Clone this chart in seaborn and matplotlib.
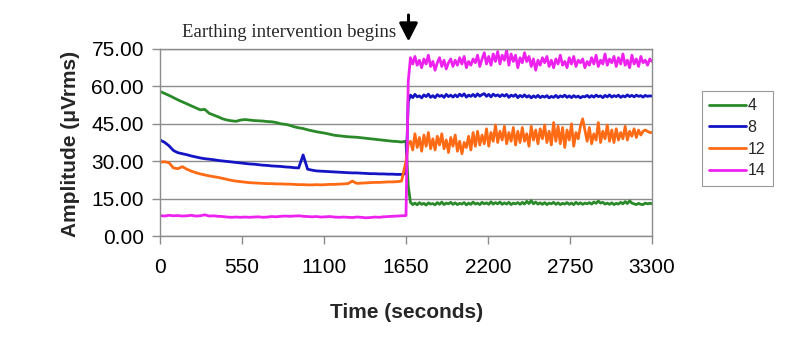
import matplotlib
matplotlib.use("Agg")
import matplotlib.pyplot as plt
import numpy as np
import pandas as pd
import seaborn as sns

# ---------------- data ----------------
time_pre = list(range(0, 1651, 30))        # 56 samples
time_post = list(range(1665, 3301, 15))    # 110 samples (first one is the transition)
time_s = time_pre + time_post

ch4_pre = [58.0, 57.2, 56.4, 55.5, 54.6, 53.8, 53.0, 52.2, 51.4, 50.6,
           50.8, 49.2, 48.5, 47.8, 47.0, 46.5, 46.2, 46.0, 46.5, 46.7,
           46.5, 46.3, 46.2, 46.1, 45.9, 45.8, 45.5, 45.0, 44.8, 44.4,
           43.8, 43.4, 43.1, 42.6, 42.2, 41.8, 41.5, 41.2, 40.8, 40.4,
           40.2, 40.0, 39.8, 39.7, 39.6, 39.4, 39.2, 39.0, 38.8, 38.6,
           38.4, 38.2, 38.0, 37.9, 37.7, 38.0]
ch4_post = [20.0,
            13.5, 12.6, 13.2, 12.5, 13.4, 12.7, 13.1, 12.4, 13.3, 12.8,
            13.0, 12.5, 13.4, 12.7, 13.6, 12.6, 13.2, 12.9, 13.5, 12.7,
            13.3, 12.6, 13.1, 12.8, 13.4, 12.5, 13.2, 12.7, 13.6, 12.8,
            13.2, 12.6, 13.5, 12.9, 13.3, 12.7, 13.7, 12.8, 13.4, 12.9,
            13.6, 12.7, 13.3, 12.8, 13.5, 12.6, 13.2, 12.9, 13.4, 12.7,
            13.5, 12.8, 13.9, 13.0, 14.2, 12.9, 13.6, 12.8, 13.3, 12.7,
            13.4, 12.6, 13.2, 12.9, 13.5, 12.7, 13.3, 12.6, 13.1, 12.8,
            13.4, 12.7, 13.2, 12.6, 13.5, 12.8, 13.3, 12.7, 13.2, 12.9,
            13.4, 12.8, 13.6, 13.1, 14.0, 13.2, 13.5, 12.8, 13.2, 12.7,
            13.3, 12.6, 13.1, 12.8, 13.5, 12.9, 13.8, 13.0, 14.1, 13.2,
            12.9, 12.6, 13.1, 12.7, 12.6, 13.2, 12.9, 13.1, 13.0]

ch8_pre = [38.5, 37.6, 36.2, 34.3, 33.4, 33.0, 32.6, 32.1, 31.7, 31.3,
           31.0, 30.8, 30.6, 30.3, 30.1, 29.9, 29.7, 29.5, 29.3, 29.1,
           28.9, 28.8, 28.6, 28.4, 28.3, 28.1, 28.0, 27.9, 27.7, 27.6,
           27.4, 27.3, 32.5, 26.8, 26.4, 26.1, 26.0, 25.9, 25.8, 25.7,
           25.6, 25.5, 25.4, 25.3, 25.3, 25.2, 25.1, 25.0, 25.0, 24.9,
           24.9, 24.8, 24.8, 24.7, 24.7, 25.0]
ch8_post = [54.0,
            56.5, 55.5, 56.8, 55.8, 56.2, 55.4, 56.6, 55.9, 56.9, 55.6,
            56.3, 55.5, 56.7, 56.0, 56.4, 55.6, 56.8, 55.9, 56.5, 55.7,
            56.6, 55.8, 56.9, 56.1, 57.0, 55.7, 56.5, 56.0, 56.8, 55.9,
            57.0, 56.1, 56.7, 57.1, 56.0, 56.8, 55.8, 56.9, 56.2, 56.6,
            55.9, 56.7, 56.1, 56.8, 55.6, 56.5, 56.0, 56.7, 55.5, 56.4,
            55.8, 56.6, 55.7, 56.3, 55.4, 56.2, 55.6, 56.4, 55.5, 56.1,
            55.7, 56.3, 55.4, 56.0, 55.6, 56.4, 55.5, 56.2, 55.8, 56.5,
            55.6, 56.2, 55.5, 56.3, 55.7, 56.1, 55.4, 56.0, 55.8, 56.4,
            55.6, 56.3, 55.7, 56.5, 55.9, 56.2, 55.5, 56.4, 55.8, 56.6,
            55.7, 56.3, 55.9, 56.5, 55.6, 56.2, 55.8, 56.6, 55.9, 56.4,
            55.8, 56.5, 56.0, 56.3, 55.7, 56.4, 56.0, 56.2, 56.1]

ch12_pre = [29.6, 29.8, 29.4, 27.3, 27.0, 27.8, 26.8, 26.0, 25.4, 24.9,
            24.5, 24.1, 23.8, 23.5, 23.1, 22.7, 22.3, 22.0, 21.8, 21.6,
            21.4, 21.3, 21.2, 21.1, 21.0, 21.0, 20.9, 20.9, 20.8, 20.8,
            20.7, 20.6, 20.6, 20.5, 20.5, 20.6, 20.5, 20.6, 20.7, 20.7,
            20.8, 20.9, 21.0, 22.0, 21.1, 21.2, 21.3, 21.4, 21.5, 21.5,
            21.6, 21.7, 21.7, 21.8, 22.0, 30.0]
ch12_post = [37.0,
             38.0, 34.5, 41.0, 35.5, 39.5, 34.0, 40.5, 36.0, 41.5, 35.0,
             39.0, 34.5, 40.0, 36.5, 41.0, 35.0, 38.5, 33.5, 39.5, 36.0,
             40.5, 34.0, 38.0, 33.0, 37.5, 35.5, 40.0, 34.5, 41.5, 36.0,
             42.0, 36.5, 40.5, 37.0, 43.0, 36.0, 41.5, 38.0, 44.5, 37.5,
             42.0, 38.5, 44.0, 37.0, 41.5, 38.0, 43.5, 36.5, 42.0, 37.5,
             43.5, 38.0, 41.0, 36.0, 44.0, 38.5, 42.5, 37.0, 43.0, 39.0,
             44.5, 37.5, 42.0, 36.5, 45.5, 38.0, 44.0, 37.0, 43.5, 35.5,
             42.5, 38.5, 45.0, 36.0, 41.5, 39.0, 44.0, 47.0, 42.5, 38.0,
             43.5, 37.0, 41.0, 38.5, 45.5, 37.5, 42.0, 39.0, 44.5, 38.0,
             42.5, 37.5, 43.0, 38.5, 41.5, 39.0, 44.0, 38.5, 42.0, 40.0,
             43.0, 39.5, 42.5, 40.5, 42.0, 42.5, 42.0, 41.5, 41.5]

ch14_pre = [8.2, 8.0, 8.3, 8.1, 8.2, 8.0, 8.1, 8.3, 8.0, 8.1,
            8.5, 8.0, 8.1, 7.9, 7.8, 7.6, 7.5, 7.6, 7.5, 7.6,
            7.5, 7.6, 7.7, 7.5, 7.6, 7.8, 7.7, 7.9, 8.0, 7.9,
            8.0, 8.1, 7.9, 7.8, 7.7, 7.8, 7.6, 7.7, 7.8, 7.6,
            7.5, 7.6, 7.5, 7.4, 7.6, 7.5, 7.3, 7.4, 7.6, 7.5,
            7.7, 7.8, 7.9, 8.0, 8.1, 8.2]
ch14_post = [62.0,
             71.5, 69.0, 72.0, 68.5, 70.5, 67.5, 71.0, 69.0, 72.5, 68.0,
             70.0, 66.5, 69.5, 71.5, 68.0, 70.5, 67.0, 69.5, 71.0, 68.0,
             70.5, 68.5, 71.5, 69.0, 72.0, 67.5, 70.0, 68.5, 71.0, 69.5,
             72.5, 68.0, 71.0, 73.5, 69.0, 72.0, 68.5, 73.0, 70.0, 74.0,
             69.0, 72.5, 70.5, 74.5, 68.5, 73.0, 70.0, 72.5, 67.5, 71.5,
             69.5, 73.5, 70.0, 72.0, 68.0, 71.0, 66.5, 70.5, 68.5, 71.5,
             69.5, 72.0, 68.0, 70.5, 67.5, 71.0, 69.0, 72.5, 68.5, 70.0,
             67.5, 71.5, 69.0, 72.0, 68.0, 70.5, 69.5, 71.0, 67.5, 70.0,
             68.5, 71.5, 69.0, 72.5, 68.0, 70.5, 69.0, 73.0, 68.5, 71.0,
             69.5, 72.0, 68.0, 71.5, 69.0, 73.0, 68.5, 70.5, 67.5, 72.5,
             69.0, 71.0, 68.0, 72.0, 69.5, 70.5, 68.5, 71.0, 70.0]

channels = ["4", "8", "12", "14"]
colors = ["#2a8a2a", "#1414c4", "#ff6a14", "#ee22ee"]
x_ticks = [0, 550, 1100, 1650, 2200, 2750, 3300]
y_ticks = [0, 15, 30, 45, 60, 75]

series = {
    "4": ch4_pre + ch4_post,
    "8": ch8_pre + ch8_post,
    "12": ch12_pre + ch12_post,
    "14": ch14_pre + ch14_post,
}

rows = []
for ch in channels:
    for t, v in zip(time_s, series[ch]):
        rows.append((t, v, ch))
df = pd.DataFrame(rows, columns=["time", "amp", "channel"])

# ---------------- drawing ----------------
sns.set_theme(style="white")
plt.rcParams["font.family"] = ["Liberation Sans", "DejaVu Sans"]

W, H = 789, 362
fig = plt.figure(figsize=(W / 100, H / 100), dpi=100)
ax = fig.add_axes([160 / W, 1 - 236 / H, (652 - 160) / W, (236 - 49) / H])

sns.lineplot(data=df, x="time", y="amp", hue="channel", hue_order=channels,
             palette=dict(zip(channels, colors)), linewidth=2.0,
             errorbar=None, ax=ax)

ax.set_xlim(0, 3300)
ax.set_ylim(0, 75)
ax.set_xticks(x_ticks)
ax.set_yticks(y_ticks)
ax.set_yticklabels([f"{v:.2f}" for v in y_ticks])
ax.set_xticklabels([str(v) for v in x_ticks])
ax.set_xlabel("")
ax.set_ylabel("")

grey = "#8c8c8c"
ax.yaxis.grid(True, color=grey, linewidth=1.0)
ax.xaxis.grid(False)
ax.set_axisbelow(True)
for sp in ax.spines.values():
    sp.set_color(grey)
    sp.set_linewidth(1.0)

ax.tick_params(axis="both", bottom=True, left=True, direction="out",
               length=5.5, width=1.0, color=grey, labelsize=15,
               labelcolor="black")
ax.tick_params(axis="x", pad=10)
ax.tick_params(axis="y", pad=6)

fig.text(406.5 / W, 1 - 313 / H, "Time (seconds)", ha="center", va="center",
         fontsize=15, fontweight="bold")
fig.text(70 / W, 1 - 144 / H, "Amplitude (\u03bcVrms)", ha="center",
         va="center", rotation=90, fontsize=15, fontweight="bold")

fig.text(182 / W, 1 - 37 / H, "Earthing intervention begins",
         ha="left", va="baseline", fontsize=13.5,
         family=["Liberation Serif", "DejaVu Serif"])
ax.annotate("", xy=(408.5, H - 41.5), xycoords="figure pixels",
            xytext=(408.5, H - 15), textcoords="figure pixels",
            arrowprops=dict(arrowstyle="-|>,head_length=0.55,head_width=0.28",
                            mutation_scale=20, lw=2.2, color="black",
                            shrinkA=0, shrinkB=0))

handles, labels = ax.get_legend_handles_labels()
if ax.get_legend() is not None:
    ax.get_legend().remove()
leg = fig.legend(handles, labels, loc="upper left",
                 bbox_to_anchor=(702 / W, 1 - 91 / H),
                 bbox_transform=fig.transFigure, frameon=True, fancybox=False,
                 fontsize=11.5, borderpad=0.45, labelspacing=0.42,
                 handlelength=2.3, handletextpad=0.1, borderaxespad=0)
leg.get_frame().set_edgecolor("#808080")
leg.get_frame().set_linewidth(0.8)
for h in leg.get_lines():
    h.set_linewidth(2.0)

fig.savefig("out.png", dpi=100, facecolor="white")
